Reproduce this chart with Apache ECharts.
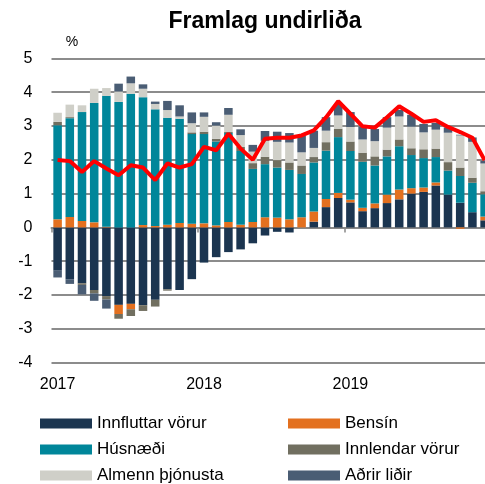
<!DOCTYPE html>
<html>
<head>
<meta charset="utf-8">
<script src="https://cdn.jsdelivr.net/npm/echarts@6/dist/echarts.min.js"></script>
<style>
html,body{margin:0;padding:0;background:#fff;}
#chart{width:485px;height:484px;}
</style>
</head>
<body>
<div id="chart"></div>
<script>
// Months Jan 2017 - Dec 2019
const months = [];
for (let y = 2017; y <= 2019; y++) {
  for (let m = 1; m <= 12; m++) months.push(y + '-' + (m < 10 ? '0' + m : m));
}
const yTicks = [-4, -3, -2, -1, 0, 1, 2, 3, 4, 5];

const innfluttar = [-1.28,-1.53,-1.65,-1.85,-2.03,-2.29,-2.26,-2.30,-2.14,-1.83,-1.85,-1.53,
                    -1.04,-0.88,-0.73,-0.65,-0.47,-0.24,-0.13,-0.15,0.00,0.17,0.60,0.87,
                    0.74,0.48,0.57,0.72,0.83,1.00,1.05,1.24,0.97,0.73,0.45,0.21];
const bensin = [0.24,0.31,0.19,0.15,0.02,-0.27,-0.16,0.07,0.04,0.08,0.13,0.11,
                0.12,0.06,0.16,0.08,0.16,0.30,0.29,0.24,0.30,0.30,0.24,0.15,
                0.08,0.10,0.14,0.25,0.29,0.16,0.13,0.09,0.00,-0.04,0.00,0.11];
const husnaedi = [2.78,2.92,3.22,3.53,3.87,3.71,3.95,3.78,3.45,3.16,3.08,2.65,
                  2.64,2.48,2.63,2.18,1.57,1.57,1.48,1.46,1.28,1.45,1.43,1.65,
                  1.44,1.36,1.12,1.13,1.28,0.98,0.87,0.75,0.71,0.79,0.87,0.66];
const innlendar = [0.10,0.03,-0.05,-0.10,-0.10,-0.14,-0.20,-0.17,-0.20,-0.04,0.00,0.05,
                   0.07,0.08,0.03,0.12,0.17,0.22,0.22,0.22,0.25,0.16,0.25,0.25,
                   0.28,0.27,0.27,0.20,0.20,0.20,0.26,0.25,0.25,0.25,0.15,0.09];
const almenn = [0.27,0.37,0.20,0.42,0.23,0.31,0.31,0.25,0.16,0.23,0.07,0.27,
                0.44,0.39,0.51,0.35,0.34,0.47,0.54,0.59,0.39,0.27,0.34,0.39,
                0.43,0.39,0.45,0.65,0.68,0.64,0.50,0.56,0.87,0.95,1.06,0.82];
const adrir = [-0.20,-0.14,-0.28,-0.22,-0.27,0.23,0.20,0.13,0.07,0.27,0.33,0.32,
               0.13,0.10,0.20,0.17,0.20,0.29,0.30,0.28,0.49,0.51,0.40,0.34,
               0.44,0.38,0.36,0.31,0.20,0.35,0.25,0.20,0.16,0.02,0.13,0.08];
const verdbolga = [1.99,1.96,1.64,1.96,1.74,1.54,1.84,1.77,1.40,1.89,1.77,1.87,
                   2.38,2.28,2.77,2.33,2.00,2.62,2.65,2.65,2.72,2.87,3.25,3.73,
                   3.36,2.99,2.95,3.26,3.58,3.36,3.12,3.17,2.97,2.82,2.65,1.99];

const names = ['Innfluttar vörur','Bensín','Húsnæði','Innlendar vörur','Almenn þjónusta','Aðrir liðir'];
const colors = ['#1b3550','#e3701f','#00869a','#716f60','#cfcfc8','#4a5d74'];
const seriesData = [innfluttar, bensin, husnaedi, innlendar, almenn, adrir];

const FONT = 'Liberation Sans';
const chart = echarts.init(document.getElementById('chart'), null, {renderer: 'canvas'});

const series = seriesData.map((d, i) => ({
  name: names[i],
  type: 'bar',
  stack: 'total',
  barWidth: '70%',
  xAxisIndex: 0,
  data: d,
  itemStyle: {color: colors[i]},
  emphasis: {disabled: true}
}));
series.push({
  name: 'Verðbólga',
  type: 'line',
  xAxisIndex: 0,
  data: verdbolga,
  symbol: 'none',
  z: 10,
  lineStyle: {color: '#ff0000', width: 4},
  itemStyle: {color: '#ff0000'}
});

const legendBase = {
  orient: 'vertical',
  top: 415,
  height: 90,
  padding: 0,
  itemWidth: 52,
  itemHeight: 10,
  itemGap: 9,
  icon: 'rect',
  selectedMode: false,
  textStyle: {fontFamily: FONT, fontSize: 17, color: '#000', lineHeight: 17}
};

chart.setOption({
  animation: false,
  backgroundColor: '#fff',
  textStyle: {fontFamily: FONT},
  grid: {left: 51.5, top: 58.3, width: 439.2, height: 304.4, containLabel: false, outerBoundsMode: 'none'},
  graphic: [
    {type: 'text', style: {text: 'Framlag undirliða', x: 265, y: 22, align: 'center', verticalAlign: 'middle', font: 'bold 23px "Liberation Sans"', fill: '#000'}},
    {type: 'text', style: {text: '%', x: 72, y: 42, align: 'center', verticalAlign: 'middle', font: '14px "Liberation Sans"', fill: '#000'}}
  ],
  legend: [
    Object.assign({}, legendBase, {left: 40, data: [names[0], names[2], names[4]]}),
    Object.assign({}, legendBase, {left: 288, data: [names[1], names[3], names[5]]})
  ],
  xAxis: [
    {
      type: 'category',
      data: months,
      position: 'bottom',
      boundaryGap: true,
      axisLine: {show: false, onZero: false},
      axisTick: {show: false},
      splitLine: {show: false},
      axisLabel: {
        interval: (idx) => idx % 12 === 0,
        formatter: (v) => v.slice(0, 4),
        fontFamily: FONT, fontSize: 16, color: '#000', margin: 14
      }
    },
    {
      type: 'category',
      data: months,
      position: 'bottom',
      boundaryGap: true,
      axisLine: {show: true, onZero: true, lineStyle: {color: '#888888', width: 2}},
      axisTick: {show: true, interval: (idx) => idx % 12 === 0, length: 5, inside: false, lineStyle: {color: '#888888', width: 1.5}},
      axisLabel: {show: false},
      splitLine: {show: false}
    }
  ],
  yAxis: {
    type: 'value',
    min: yTicks[0],
    max: yTicks[yTicks.length - 1],
    interval: 1,
    axisLine: {show: false},
    axisTick: {show: false},
    splitLine: {show: true, lineStyle: {color: '#8c8c8c', width: 2}},
    axisLabel: {fontFamily: FONT, fontSize: 16, color: '#000', margin: 19}
  },
  series: series
});
</script>
</body>
</html>
